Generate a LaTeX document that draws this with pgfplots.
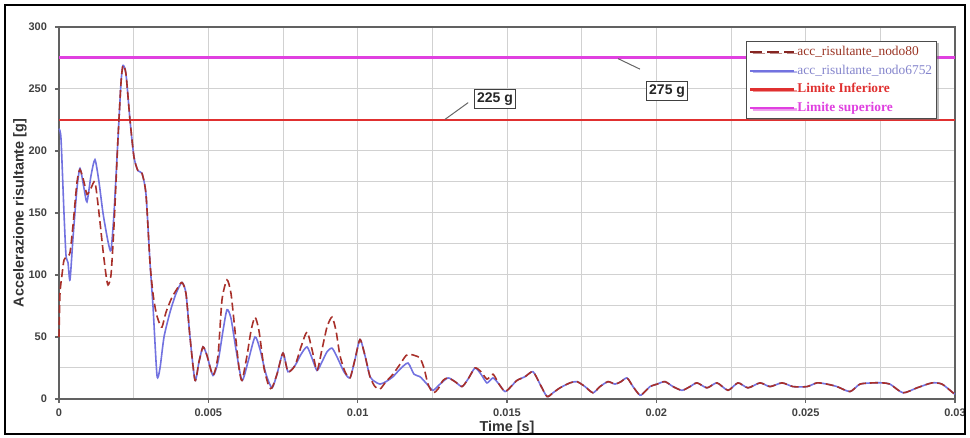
\documentclass[border=0pt]{standalone}
\usepackage{fontspec}
\setmainfont{Liberation Sans}
\newfontfamily\legfont{Liberation Serif}
\usepackage{pgfplots}
\pgfplotsset{compat=1.18}
\usetikzlibrary{shadows}
\definecolor{bluecurve}{HTML}{7272E0}
\definecolor{redcurve}{HTML}{A8302A}
\definecolor{liminf}{HTML}{E03030}
\definecolor{limsup}{HTML}{E040E0}
\definecolor{legred}{HTML}{9A3424}
\definecolor{legblue}{HTML}{8484CC}
\definecolor{ticktext}{HTML}{404040}
\begin{document}
\begin{tikzpicture}
\begin{axis}[
  name=ax,
  scale only axis,
  width=448pt, height=186pt,
  xmin=0, xmax=0.03, ymin=0, ymax=300,
  xtick={0,0.005,0.01,0.015,0.02,0.025,0.03},
  xticklabels={0,0.005,0.01,0.015,0.02,0.025,0.03},
  ytick={0,50,100,150,200,250,300},
  minor x tick num=1, minor y tick num=1,
  grid=both,
  grid style={draw=black!18, line width=0.5pt},
  minor grid style={draw=black!18, line width=0.5pt},
  tick align=outside, tick pos=left,
  major tick length=2pt, minor tick length=0pt,
  every tick/.style={draw=black!60, line width=0.6pt},
  axis line style={draw=black!62, line width=0.8pt},
  ticklabel style={font=\fontsize{5.5}{6}\selectfont\bfseries, text=ticktext},
  xticklabel style={yshift=0.5pt},
  yticklabel style={xshift=-0.5pt},
  /pgf/number format/assume math mode=true,
  scaled x ticks=false,
  xlabel={Time [s]},
  ylabel={Accelerazione risultante [g]},
  every axis x label/.style={at={(axis description cs:0.5,-0.077)}, anchor=center, font=\fontsize{7.2}{8}\selectfont\bfseries, text=black!80},
  every axis y label/.style={at={(axis description cs:-0.0435,0.5)}, rotate=90, anchor=center, font=\fontsize{7.2}{8}\selectfont\bfseries, text=black!80},
  clip=false,
  legend style={
    at={(axis description cs:0.767,0.962)}, anchor=north west,
    draw=black!70, line width=0.6pt, fill=white,
    font=\legfont\fontsize{6.7}{7.5}\selectfont,
    inner xsep=1pt, inner ysep=1pt, row sep=0.8pt,
    nodes={inner sep=1pt, text height=5pt, text depth=1.5pt},
    drop shadow={shadow xshift=1.2pt, shadow yshift=-0.6pt, fill=black!55},
  },
  legend cell align=left,
  legend image code/.code={\draw[#1] (0pt,0pt) -- (22pt,0pt);},
]
% limit lines
\addplot[forget plot, color=liminf, line width=1.1pt] coordinates {(0,225) (0.03,225)};
\addplot[forget plot, color=limsup, line width=1.5pt] coordinates {(0,275) (0.03,275)};
% nodo6752 (blue, solid)
\addplot[forget plot, color=bluecurve, line width=0.8pt, smooth, tension=0.4] table {
t g
0.000000 218
0.000067 210
0.000167 150
0.000234 116
0.000301 110
0.000368 96
0.000469 130
0.000603 170
0.000703 186
0.000837 170
0.000937 159
0.001071 180
0.001205 193
0.001339 175
0.001473 150
0.001641 127
0.001741 120
0.001842 150
0.001975 210
0.002076 255
0.002143 269
0.002243 262
0.002377 225
0.002511 195
0.002645 184
0.002779 182
0.002913 165
0.003047 110
0.003147 75
0.003281 19
0.003382 25
0.003516 50
0.003717 70
0.003917 85
0.004118 94
0.004252 85
0.004386 50
0.004554 15
0.004687 30
0.004821 42
0.004955 35
0.005156 19
0.005324 30
0.005491 55
0.005625 72
0.005759 65
0.005926 40
0.006127 15
0.006328 30
0.006562 50
0.006730 40
0.006931 20
0.007132 9
0.007299 20
0.007500 37
0.007667 22
0.007902 27
0.008103 36
0.008304 42
0.008471 33
0.008638 23
0.008806 30
0.008973 38
0.009141 41
0.009308 34
0.009542 22
0.009743 17
0.009911 32
0.010078 48
0.010245 35
0.010413 18
0.010580 14
0.010748 12
0.010949 14
0.011183 18
0.011417 24
0.011685 29
0.011886 20
0.012087 18
0.012321 12
0.012522 7
0.012757 12
0.013024 17
0.013259 14
0.013493 10
0.013694 16
0.013929 25
0.014129 20
0.014330 13
0.014531 17
0.014732 12
0.014933 6
0.015134 10
0.015335 15
0.015603 18
0.015870 22
0.016105 12
0.016339 2
0.016540 5
0.016774 9
0.017109 13
0.017344 14
0.017612 10
0.017879 5
0.018114 10
0.018382 14
0.018616 12
0.018817 14
0.019018 17
0.019219 10
0.019453 3
0.019620 6
0.019788 10
0.020022 12
0.020290 14
0.020558 10
0.020859 7
0.021127 10
0.021362 13
0.021696 9
0.022031 13
0.022400 7
0.022734 13
0.023069 9
0.023471 13
0.023806 10
0.024207 13
0.024576 10
0.025045 10
0.025379 13
0.025714 12
0.026049 10
0.026484 6
0.026819 12
0.027254 13
0.027556 13
0.027824 12
0.028259 5
0.028728 9
0.029230 13
0.029565 12
0.029933 5
0.030000 4
};
% nodo80 (red, dashed)
\addplot[forget plot, color=redcurve, line width=0.8pt, dash pattern=on 4pt off 2pt, smooth, tension=0.4] table {
t g
0.000000 50
0.000033 85
0.000100 100
0.000167 112
0.000268 115
0.000368 118
0.000469 140
0.000603 175
0.000703 185
0.000837 175
0.000937 165
0.001071 170
0.001205 175
0.001339 150
0.001473 120
0.001574 100
0.001641 92
0.001741 100
0.001842 140
0.001975 210
0.002076 255
0.002143 269
0.002243 262
0.002377 225
0.002511 195
0.002645 184
0.002779 182
0.002913 165
0.003047 110
0.003147 85
0.003248 70
0.003348 62
0.003449 58
0.003583 70
0.003783 82
0.003984 90
0.004118 94
0.004252 85
0.004386 50
0.004554 15
0.004687 30
0.004821 42
0.004955 35
0.005156 19
0.005324 35
0.005458 80
0.005625 96
0.005759 85
0.005893 55
0.006027 25
0.006127 15
0.006295 35
0.006429 55
0.006562 66
0.006696 55
0.006864 25
0.007031 10
0.007132 9
0.007299 20
0.007500 37
0.007667 22
0.007902 27
0.008103 42
0.008304 54
0.008471 40
0.008638 23
0.008806 40
0.008973 58
0.009141 66
0.009275 55
0.009408 35
0.009576 22
0.009743 17
0.009911 32
0.010078 48
0.010245 35
0.010413 18
0.010580 10
0.010748 8
0.010949 14
0.011183 20
0.011417 28
0.011618 35
0.011752 36
0.011920 35
0.012087 33
0.012221 25
0.012355 12
0.012522 5
0.012690 8
0.012857 15
0.013024 17
0.013259 14
0.013493 10
0.013694 16
0.013929 25
0.014129 22
0.014330 16
0.014531 20
0.014732 12
0.014933 6
0.015134 10
0.015335 15
0.015603 18
0.015870 22
0.016105 12
0.016339 2
0.016540 5
0.016774 9
0.017109 13
0.017344 14
0.017612 10
0.017879 5
0.018114 10
0.018382 14
0.018616 12
0.018817 14
0.019018 17
0.019219 10
0.019453 3
0.019620 6
0.019788 10
0.020022 12
0.020290 14
0.020558 10
0.020859 7
0.021127 10
0.021362 13
0.021696 9
0.022031 13
0.022400 7
0.022734 13
0.023069 9
0.023471 13
0.023806 10
0.024207 13
0.024576 10
0.025045 10
0.025379 13
0.025714 12
0.026049 10
0.026484 6
0.026819 12
0.027254 13
0.027556 13
0.027824 12
0.028259 5
0.028728 9
0.029230 13
0.029565 12
0.029933 5
0.030000 4
};
% legend
\addlegendimage{color=redcurve!80!black, line width=0.8pt, dash pattern=on 6pt off 2.5pt}
\addlegendentry{\textcolor{legred}{acc\_risultante\_nodo80}}
\addlegendimage{color=bluecurve, line width=0.8pt}
\addlegendentry{\textcolor{legblue}{acc\_risultante\_nodo6752}}
\addlegendimage{color=liminf, line width=1.1pt}
\addlegendentry{\textcolor{liminf}{\bfseries Limite Inferiore}}
\addlegendimage{color=limsup, line width=1.3pt}
\addlegendentry{\textcolor{limsup}{\bfseries Limite superiore}}
% annotations
\draw[black!60, line width=0.5pt] (axis cs:0.012924,225.5) -- (axis cs:0.013700,239);
\node[draw=black!75, fill=white, line width=0.5pt, inner sep=1.5pt, font=\fontsize{7}{8}\selectfont\bfseries, text=black!85] at (axis cs:0.01460,242) {225 g};
\draw[black!60, line width=0.5pt] (axis cs:0.018717,274.5) -- (axis cs:0.019453,266);
\node[draw=black!75, fill=white, line width=0.5pt, inner sep=1.5pt, font=\fontsize{7}{8}\selectfont\bfseries, text=black!85] at (axis cs:0.02036,248.4) {275 g};
\end{axis}
\draw[black, line width=1pt] ([shift={(-27pt,-17.5pt)}]ax.south west) rectangle ([shift={(5pt,11pt)}]ax.north east);
\pgfresetboundingbox
\path[use as bounding box] ([shift={(-29.5pt,-19.5pt)}]ax.south west) rectangle ([shift={(7.5pt,13.5pt)}]ax.north east);
\end{tikzpicture}
\end{document}
